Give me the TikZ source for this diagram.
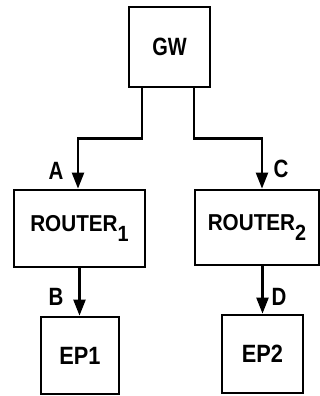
\documentclass[tikz,border=0pt]{standalone}
\usepackage{fontspec}
\setmainfont{Liberation Sans}
\usetikzlibrary{arrows.meta}
\newcommand{\nt}[2][0.9]{\scalebox{#1}[1]{#2}}
\newcommand{\subidx}[1]{\raisebox{-10pt}{\fontsize{22}{22}\selectfont #1}}
\tikzset{
  blk/.style={draw=black, line width=2.8pt, rectangle, inner sep=0pt, font=\fontsize{23}{23}\selectfont\bfseries},
  big/.style={font=\fontsize{25}{25}\selectfont\bfseries},
  arr/.style={line width=2.4pt, -{Triangle[length=16pt,width=12pt]}},
  lbl/.style={font=\fontsize{25}{25}\selectfont\bfseries, inner sep=0pt}
}
\begin{document}
\begin{tikzpicture}
\useasboundingbox (0pt,0pt) rectangle (320pt,396pt);
\node[blk, big, minimum width=81pt, minimum height=80pt] (GW) at (169.5pt,349pt) {\nt[0.8]{GW}};
\node[blk, minimum width=131pt, minimum height=77pt] (R1) at (79.5pt,167.5pt) {\nt{ROUTER\subidx{1}}};
\node[blk, minimum width=124pt, minimum height=75pt] (R2) at (257pt,168.5pt) {\nt{ROUTER\subidx{2}}};
\node[blk, big, minimum width=78pt, minimum height=77pt] (EP1) at (80pt,40.5pt) {\nt[0.87]{EP1}};
\node[blk, big, minimum width=81pt, minimum height=78pt] (EP2) at (262.5pt,42pt) {\nt[0.87]{EP2}};
\draw[arr] ([xshift=-27.5pt]GW.south) -- ++(0,-50pt) -| ([xshift=-1.5pt]R1.north);
\draw[arr] ([xshift=24.5pt]GW.south) -- ++(0,-50pt) -| ([xshift=5pt]R2.north);
\draw[arr] (R1.south) -- (R1.south |- EP1.north);
\draw[arr] (EP2.north |- R2.south) -- (EP2.north);
\node[lbl] (A) at (56pt,225pt) {\nt[0.82]{A}};
\node[lbl] (C) at (281pt,227pt) {\nt[0.82]{C}};
\node[lbl] (B) at (56pt,99pt) {\nt[0.82]{B}};
\node[lbl] (D) at (279pt,99pt) {\nt[0.82]{D}};
\end{tikzpicture}
\end{document}
